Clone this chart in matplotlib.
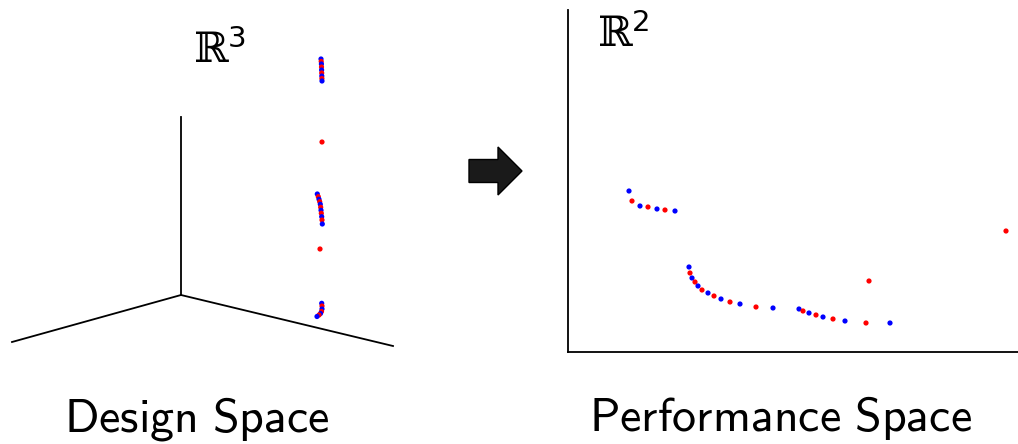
import matplotlib
matplotlib.use("Agg")
import matplotlib.pyplot as plt
from matplotlib.patches import FancyArrow

plt.rcParams['mathtext.fontset'] = 'cm'

# design space points (projected onto the page), colour per point
design_x = [321, 321.2, 321.4, 321.5, 321.6, 321.7, 321.8, 321.9, 322,
            322,
            317.3, 318.3, 319, 319.7, 320.3, 320.7, 321, 321.3, 321.7, 322, 322.3,
            320,
            321.7, 322, 322, 321.5, 320.5, 319, 317]
design_y = [59, 61.5, 64, 67, 70, 73, 76, 78.5, 81,
            142,
            194, 196.7, 199.3, 201.7, 204.3, 207.3, 210.3, 213.3, 216.7, 220, 224,
            249,
            303.3, 306, 309, 311.5, 313.5, 315, 316.5]
design_c = ['b', 'r', 'b', 'r', 'b', 'r', 'b', 'r', 'b',
            'r',
            'b', 'r', 'b', 'r', 'b', 'r', 'b', 'r', 'b', 'r', 'b',
            'r',
            'b', 'r', 'b', 'r', 'b', 'r', 'b']

# performance space points
perf_x = [61, 64, 72, 80, 89, 97, 107,
          121, 122, 124, 127, 130, 134, 140, 146, 153, 162, 172, 188, 205,
          231, 235, 241, 248, 255, 265, 277, 298, 322,
          301, 438]
perf_y = [161, 151, 146, 145, 143, 142, 141,
          85, 79, 74, 70, 66, 62, 59, 56, 53, 50, 48, 45, 44,
          43, 41, 39, 37, 35, 33, 31, 29, 29,
          71, 121]
perf_c = ['b', 'r', 'b', 'r', 'b', 'r', 'b',
          'b', 'r', 'b', 'r', 'b', 'r', 'b', 'r', 'b', 'r', 'b', 'r', 'b',
          'b', 'r', 'b', 'r', 'b', 'r', 'b', 'r', 'b',
          'r', 'r']

colmap = {'b': '#0000ff', 'r': '#ff0000'}

W, H = 1018, 444
fig = plt.figure(figsize=(W / 100, H / 100), dpi=100)

# overlay axes in page pixels for the design space sketch, arrow and labels
ax0 = fig.add_axes([0, 0, 1, 1])
ax0.set_xlim(0, W)
ax0.set_ylim(H, 0)
ax0.axis('off')

# pseudo 3d axes
origin = (181, 295)
for end in [(181, 117), (12, 342), (393, 346)]:
    ax0.plot([origin[0], end[0]], [origin[1], end[1]], color='black', lw=1.3)

ax0.scatter(design_x, design_y, c=[colmap[c] for c in design_c], s=14, lw=0, zorder=3)

ax0.text(193, 63, r'$\mathrm{ℝ}^{\mathsf{3}}$', fontsize=30, ha='left', va='baseline',
         math_fontfamily='dejavuserif')
ax0.text(197, 431, r'$\mathsf{Design\ Space}$', fontsize=34.5, ha='center', va='baseline')
ax0.text(780, 431, r'$\mathsf{Performance\ Space}$', fontsize=34.5, ha='center', va='baseline')

ax0.add_patch(FancyArrow(469, 171, 53, 0, width=23, head_width=48, head_length=24,
                         length_includes_head=True, facecolor='#1a1a1a', edgecolor='black', lw=1))

# performance space axes
ax1 = fig.add_axes([568 / W, (H - 352) / H, 450 / W, 342 / H])
ax1.set_xlim(0, 450)
ax1.set_ylim(0, 342)
ax1.scatter(perf_x, perf_y, c=[colmap[c] for c in perf_c], s=14, lw=0, zorder=3)
ax1.spines['top'].set_visible(False)
ax1.spines['right'].set_visible(False)
ax1.spines['left'].set_linewidth(1.3)
ax1.spines['bottom'].set_linewidth(1.3)
ax1.set_xticks([])
ax1.set_yticks([])
ax1.patch.set_alpha(0)

fig.text(597 / W, 1 - 47 / H, r'$\mathrm{ℝ}^{\mathsf{2}}$', fontsize=30, ha='left', va='baseline',
         math_fontfamily='dejavuserif')

fig.savefig('out.png', dpi=100)
